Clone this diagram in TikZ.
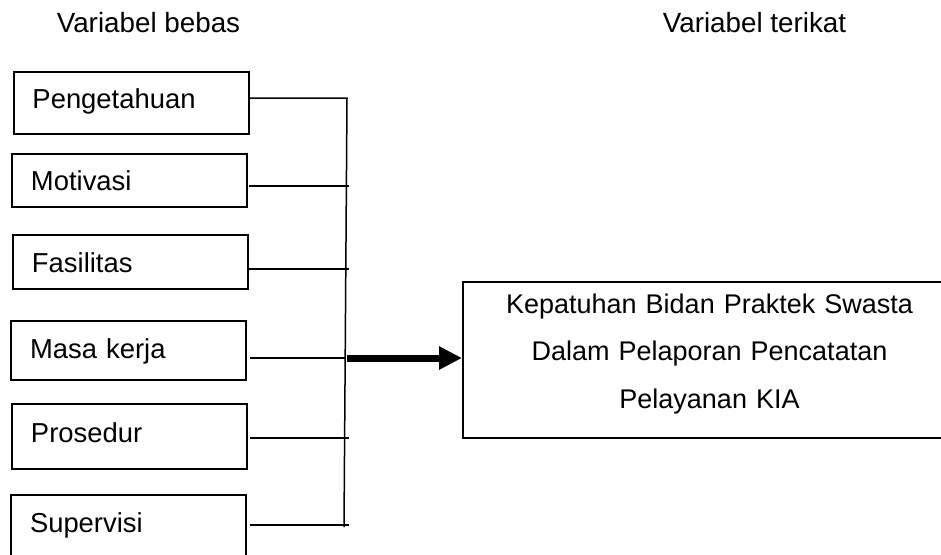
\documentclass[tikz,border=0pt]{standalone}
\usepackage{fontspec}
\setmainfont{Liberation Sans}
\usetikzlibrary{arrows.meta}

\begin{document}
\begin{tikzpicture}[x=0.5pt, y=-0.5pt,
        varbox/.style={draw, line width=1pt, text width=98.5pt, inner xsep=9.5pt, inner ysep=0pt,
            align=left, text height=10pt, font=\fontsize{13.7}{16}\selectfont},
        hasilbox/.style={draw, line width=1pt, minimum width=246.5pt, minimum height=77pt,
            text width=230pt, align=center, font=\fontsize{13.5}{23.75}\selectfont},
        judul/.style={anchor=base, font=\fontsize{13.9}{16}\selectfont},
        garis/.style={line width=0.75pt},
        panah/.style={line width=3.5pt, -{Triangle[length=11.5pt, width=11pt]}}
    ]
        % ================= bidang gambar =================
        \useasboundingbox (0,0) rectangle (941,554);
        \clip (0,0) rectangle (941,554);

        % 1. Judul kolom
        \node[judul] (jbebas) at (148.5,32) {Variabel bebas};
        \node[judul] (jterikat) at (754.5,32) {Variabel terikat};

        % 2. Variabel bebas (kotak kiri)
        \node[varbox, minimum height=31pt, text depth=5pt] (pen) at (131,103) {Pengetahuan};
        \node[varbox, minimum height=26.5pt, text depth=0pt] (mot) at (129.5,180.5) {Motivasi};
        \node[varbox, minimum height=27pt, text depth=0pt] (fas) at (130.5,262) {Fasilitas};
        \node[varbox, minimum height=29.5pt, text depth=2pt] (mas) at (128.5,350.5) {Masa kerja};
        \node[varbox, minimum height=32.5pt, text depth=4.5pt] (pro) at (129.5,436.5) {Prosedur};
        \node[varbox, minimum height=38pt, text depth=11pt] (sup) at (128.5,533) {Supervisi};

        % 3. Variabel terikat (kotak kanan)
        \node[hasilbox, text height=12pt, text depth=59pt] (hasil) at (709.5,360)
            {Kepatuhan Bidan Praktek Swasta\\Dalam Pelaporan Pencatatan\\Pelayanan KIA};

        % 4. Titik-titik pada garis tegak
        \coordinate (t1) at (347,98);
        \coordinate (t2) at (349,186);
        \coordinate (t3) at (349,269);
        \coordinate (t4) at (345,358);
        \coordinate (t5) at (349,438);
        \coordinate (t6) at (349,525);
        \coordinate (bawah) at (344,527);
        \coordinate (pangkal) at (347,358);

        % 5. Garis penghubung
        \draw[garis] (pen.east |- t1) -- (t1) -- (bawah);
        \draw[garis] (mot.east |- t2) ++(1,0) -- (t2);
        \draw[garis] (fas.east |- t3) ++(0,0) -- (t3);
        \draw[garis] (mas.east |- t4) ++(3,0) -- (t4);
        \draw[garis] (pro.east |- t5) ++(2,0) -- (t5);
        \draw[garis] (sup.east |- t6) ++(3,0) -- (t6);

        % 6. Panah tebal ke variabel terikat
        \draw[panah] (pangkal) -- (pangkal -| hasil.west);
    \end{tikzpicture}
\end{document}
